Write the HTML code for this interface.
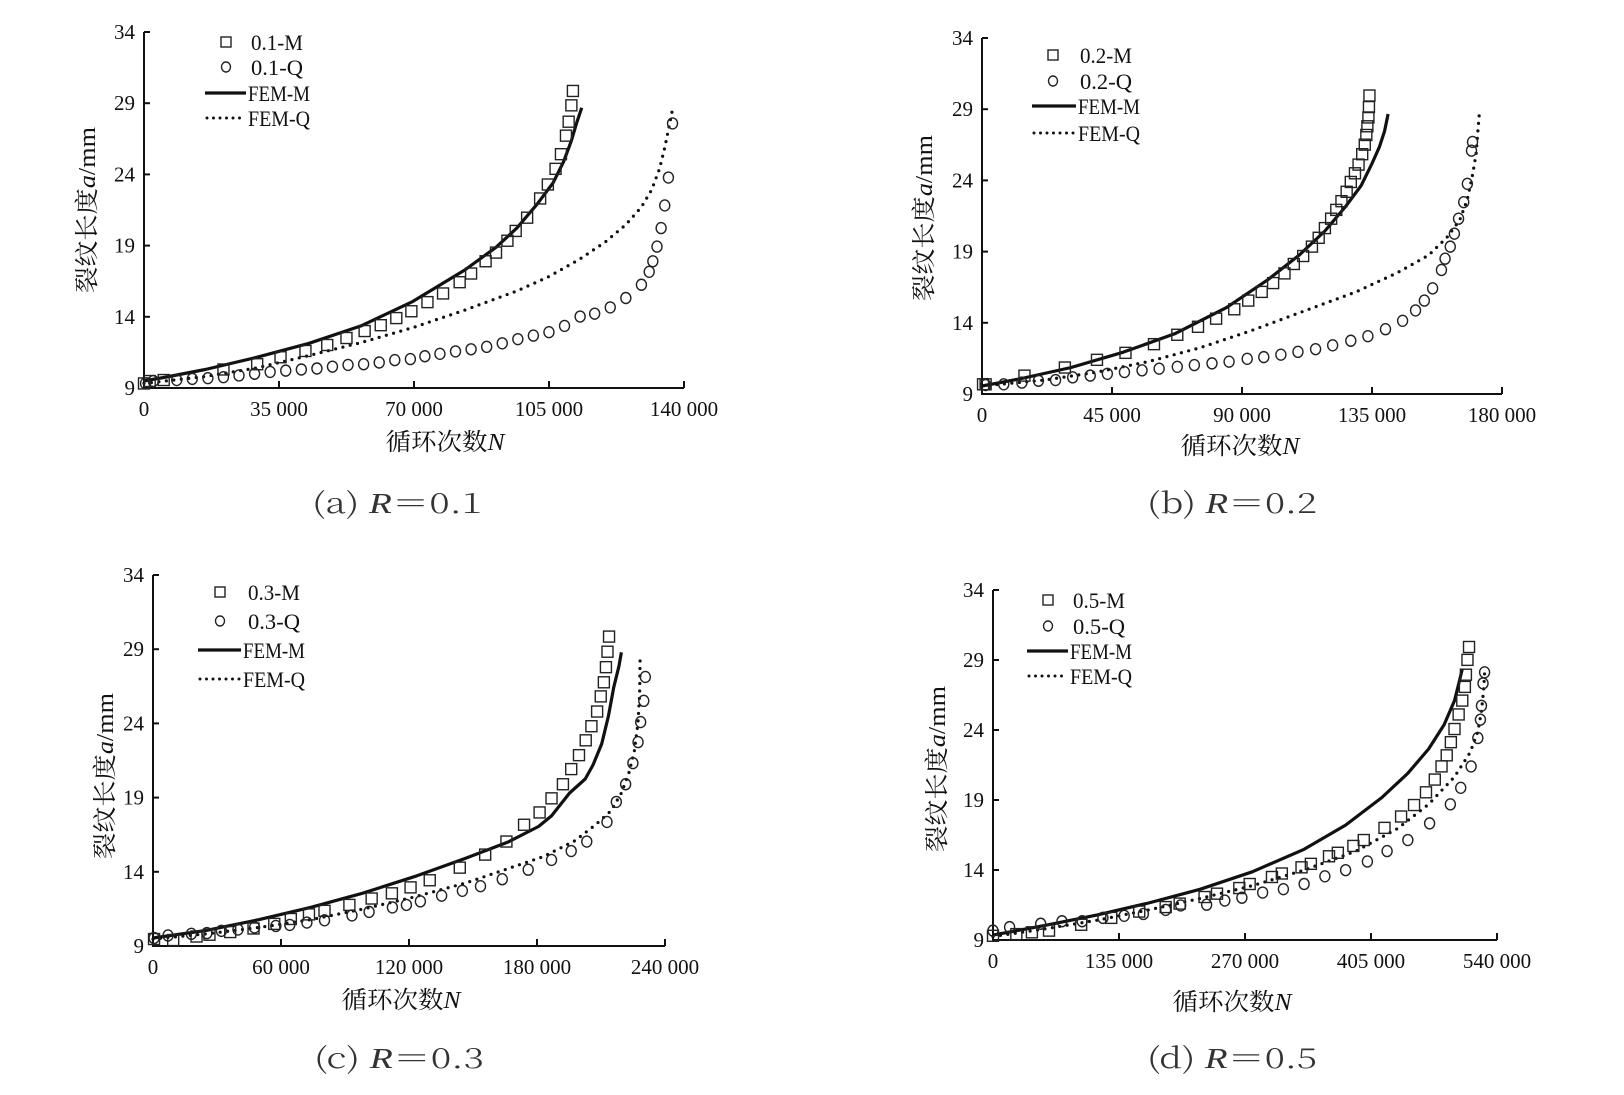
<!DOCTYPE html>
<html><head><meta charset="utf-8"><style>
html,body{margin:0;padding:0;background:#fff;}
svg{display:block;}
text{fill:#111;}
.tk{font-family:"Liberation Serif",serif;font-size:21px;}
.lg{font-family:"Liberation Serif",serif;font-size:22px;}
.ttl{font-family:"Liberation Serif","Noto Serif CJK SC",serif;font-size:24px;}
.cap{font-family:"Noto Serif CJK SC","Liberation Serif",serif;font-size:28px;font-weight:300;fill:#333;}
</style></head><body>
<svg id="chart" width="1624" height="1095" viewBox="0 0 1624 1095" xmlns="http://www.w3.org/2000/svg"></svg>
<script>
// Panel (a) R=0.1
const aMN=[0,1480,5115,20596,29343,35400,41860,47510,52490,57200,61380,65410,69320,73490,77530,81840,84800,88570,91260,94220,96370,99330,102700,104700,106700,108100,109400,110100,110800,111200];
const aMA=[9.32,9.49,9.56,10.30,10.67,11.16,11.60,12.02,12.51,13.00,13.41,13.91,14.39,15.03,15.64,16.43,17.04,17.90,18.51,19.34,20.03,20.96,22.31,23.29,24.39,25.42,26.72,27.70,28.85,29.86];
const aQN=[400,2420,8480,12520,16560,20600,24630,28670,32710,36750,40790,44830,48860,52900,56940,60980,65020,69060,72820,76720,80760,84800,88840,92880,96920,100950,104990,109030,113070,116840,120880,124920,128960,130980,131920,133000,134070,135010,135960,137030];
const aQA=[9.32,9.49,9.56,9.64,9.69,9.76,9.88,10.00,10.13,10.22,10.30,10.37,10.50,10.62,10.67,10.79,10.96,11.03,11.23,11.40,11.57,11.72,11.89,12.14,12.43,12.68,12.92,13.36,14.02,14.22,14.66,15.32,16.25,17.16,17.90,18.93,20.23,21.82,23.78,27.58];
const aFMN=[0,5115,15880,29340,42800,56260,69720,83180,91260,96640,102030,106060,108760,110780,112120,113470];
const aFMA=[9.5,9.74,10.30,11.16,12.14,13.36,15.08,17.29,18.88,20.23,21.94,23.41,24.88,26.35,27.58,28.68];
const aFQN=[0,15880,29340,42800,56260,69720,83180,96640,104710,112780,119510,124900,128930,131620,133640,134990,135930,137010];
const aFQA=[9.32,9.81,10.42,11.28,12.19,13.24,14.47,15.81,16.79,18.02,19.24,20.47,21.70,22.92,24.39,25.86,27.09,28.56];
const aTicks=[0,35000,70000,105000,140000];
const aTickLabels=["0","35 000","70 000","105 000","140 000"];
// Panel (b) R=0.2
const bMN=[360,1260,14700,28690,39800,49670,59530,67600,74770,81040,87320,92160,96820,100770,104710,107940,111170,114210,116550,118700,120850,122640,124430,126230,127660,129100,130350,131610,132500,133040,133400,133760,133940,134120];
const bMA=[9.68,9.68,10.29,10.86,11.40,11.89,12.50,13.16,13.72,14.29,14.95,15.56,16.17,16.79,17.47,18.13,18.69,19.35,19.97,20.65,21.31,21.93,22.54,23.20,23.89,24.50,25.11,25.84,26.51,27.19,27.80,28.42,29.15,29.96];
const bQN=[1260,7530,13810,19540,25460,31380,37470,43390,49310,55400,61320,67600,73510,79610,85530,91800,97540,103460,109370,115470,121380,127660,133580,139670,145590,150070,153120,155990,159040,160290,162090,163520,164960,166750,168010,169440,169800];
const bQA=[9.63,9.68,9.80,9.93,9.98,10.17,10.29,10.42,10.54,10.66,10.78,10.91,11.03,11.15,11.27,11.47,11.59,11.76,11.96,12.15,12.42,12.74,13.06,13.55,14.14,14.87,15.56,16.42,17.71,18.50,19.35,20.26,21.31,22.47,23.76,26.09,26.70];
const bFMN=[0,12910,30840,48770,66700,84630,98970,109730,118700,125870,131250,134830,137520,139320,140570];
const bFMA=[9.56,10.05,10.86,11.93,13.23,15.07,17.03,18.74,20.45,22.17,23.64,25.11,26.33,27.44,28.66];
const bFQN=[0,21870,39800,57730,75660,93590,111520,129450,143800,154550,160830,165310,168000,169800,171050,171590,172130];
const bFQA=[9.56,9.98,10.54,11.28,12.26,13.48,14.83,16.17,17.52,18.74,19.97,21.19,22.66,24.38,25.84,27.31,28.66];
const bTicks=[0,45000,90000,135000,180000];
const bTickLabels=["0","45 000","90 000","135 000","180 000"];
// Panel (c) R=0.3
const cMN=[490,9470,20400,26470,36190,47120,56840,64610,73110,80400,92060,102500,111980,120730,129720,143810,155710,165670,173930,181220,186810,192150,196040,199680,202840,205510,208180,209880,211340,212310,213040,213770];
const cMA=[9.47,9.40,9.64,9.76,9.94,10.18,10.49,10.82,11.13,11.37,11.77,12.20,12.55,12.95,13.43,14.28,15.16,16.04,17.17,18.00,18.95,19.90,20.92,21.86,22.86,23.81,24.80,25.82,26.77,27.79,28.83,29.85];
const cQN=[490,7040,17970,25260,32060,39830,47610,57570,64120,72140,80400,93270,101290,112220,118780,125340,135300,145010,153520,163720,175870,186810,196040,203330,212800,217180,221550,224950,227370,228590,230050,230780];
const cQA=[9.54,9.71,9.82,9.87,10.02,10.11,10.25,10.35,10.42,10.58,10.73,11.06,11.30,11.60,11.77,12.01,12.39,12.72,13.03,13.50,14.14,14.80,15.40,16.04,17.36,18.71,19.90,21.32,22.74,24.09,25.52,27.13];
const cFMN=[0,25260,49550,73840,98130,122420,146710,166150,180720,186800,195300,202580,206230,210350,213510,215940,218370,219580];
const cFMA=[9.54,10.06,10.77,11.60,12.55,13.67,14.92,15.99,17.05,17.77,19.31,20.25,21.20,22.62,24.52,26.42,27.84,28.79];
const cFQN=[0,25260,49550,73840,98130,122420,146710,166150,183150,197720,207440,214730,219580,223220,225650,227350,228080,228320];
const cFQA=[9.47,9.82,10.25,10.77,11.48,12.30,13.25,14.20,15.03,16.09,17.17,18.12,19.31,20.73,22.15,24.05,25.94,28.31];
const cTicks=[0,60000,120000,180000,240000];
const cTickLabels=["0","60 000","120 000","180 000","240 000"];
// Panel (d) R=0.5
const dMN=[0,25000,41670,60000,94450,126670,156670,185010,200010,226680,240010,263900,275010,298900,309460,330570,340570,360020,369460,386130,397240,419460,437240,451130,463910,473350,480580,486130,490580,494470,498910,502800,505580,506690,508360,510030];
const dMA=[9.30,9.42,9.55,9.67,10.09,10.58,11.03,11.35,11.60,12.07,12.31,12.71,13.00,13.50,13.75,14.19,14.44,14.98,15.23,15.72,16.14,17.01,17.82,18.64,19.55,20.46,21.40,22.19,23.13,24.07,25.11,26.10,27.08,27.95,29.01,29.93];
const dQN=[0,17780,51110,73890,95560,117780,140560,161120,185010,201120,228900,248350,266680,288910,311130,333360,355580,377800,401140,422250,444470,467800,490030,501140,512250,519470,522250,523360,525030,526690];
const dQA=[9.67,9.92,10.16,10.34,10.34,10.58,10.73,10.86,11.15,11.47,11.52,11.82,12.02,12.39,12.63,13.00,13.55,13.99,14.61,15.35,16.14,17.33,18.69,19.87,21.40,23.43,24.74,25.73,27.33,28.12];
const dFMN=[0,55560,111120,166680,222240,277800,333360,377810,416700,444480,466700,483370,494480,500040,502820];
const dFMA=[9.35,10.04,10.78,11.64,12.63,13.87,15.48,17.21,19.18,20.91,22.64,24.37,26.10,27.58,28.37];
const dFQN=[0,55560,111120,166680,222240,277800,333360,388920,433370,466700,494480,511150,519480,523370,525590,526690];
const dFQA=[9.25,9.79,10.41,11.15,11.97,12.88,13.99,15.35,16.96,18.69,20.66,22.39,23.87,25.36,26.84,28.07];
const dTicks=[0,135000,270000,405000,540000];
const dTickLabels=["0","135 000","270 000","405 000","540 000"];
const yTicks=[9,14,19,24,29,34];

const NS="http://www.w3.org/2000/svg";
const svg=document.getElementById('chart');
function mk(tag,attrs,parent){const e=document.createElementNS(NS,tag);for(const k in attrs)e.setAttribute(k,attrs[k]);(parent||svg).appendChild(e);return e;}

const panels=[
 {id:'a',R:'0.1',x0:144,x1:684,y0:388,y1:32,xmax:140000,ticks:aTicks,labels:aTickLabels,MN:aMN,MA:aMA,QN:aQN,QA:aQA,FMN:aFMN,FMA:aFMA,FQN:aFQN,FQA:aFQA,
  lg:{mx:226,tx:251,y:[42,67,93,118],l0:205,l1:246},yt:{x:86,y:210},xt:{x:445,y:441},cap:{x:397,y:513}},
 {id:'b',R:'0.2',x0:982,x1:1502,y0:394,y1:38,xmax:180000,ticks:bTicks,labels:bTickLabels,MN:bMN,MA:bMA,QN:bQN,QA:bQA,FMN:bFMN,FMA:bFMA,FQN:bFQN,FQA:bFQA,
  lg:{mx:1053,tx:1080,y:[55,81,106,133],l0:1032,l1:1076},yt:{x:923,y:218},xt:{x:1240,y:445},cap:{x:1232,y:513}},
 {id:'c',R:'0.3',x0:153,x1:665,y0:946,y1:575,xmax:240000,ticks:cTicks,labels:cTickLabels,MN:cMN,MA:cMA,QN:cQN,QA:cQA,FMN:cFMN,FMA:cFMA,FQN:cFQN,FQA:cFQA,
  lg:{mx:220,tx:248,y:[592,621,650,679],l0:198,l1:241},yt:{x:104,y:776},xt:{x:401,y:999},cap:{x:399,y:1068}},
 {id:'d',R:'0.5',x0:993,x1:1497,y0:940,y1:590,xmax:540000,ticks:dTicks,labels:dTickLabels,MN:dMN,MA:dMA,QN:dQN,QA:dQA,FMN:dFMN,FMA:dFMA,FQN:dFQN,FQA:dFQA,
  lg:{mx:1048,tx:1073,y:[600,626,651,676],l0:1027,l1:1068},yt:{x:936,y:769},xt:{x:1232,y:1001},cap:{x:1232,y:1068}}
];

panels.forEach(p=>{
  const g=mk('g',{});
  
  
  const X=v=>p.x0+(v/p.xmax)*(p.x1-p.x0);
  const Y=v=>p.y0-(v-9)/25*(p.y0-p.y1);
  const ax=mk('path',{d:`M${p.x0},${p.y1} V${p.y0} H${p.x1}`,fill:'none',stroke:'#111','stroke-width':2},g);
  
  
  yTicks.forEach(t=>{
    mk('line',{x1:p.x0,x2:p.x0+6,y1:Y(t),y2:Y(t),stroke:'#111','stroke-width':2},g);
    const tx=mk('text',{x:p.x0-9,y:Y(t)+7,'text-anchor':'end',class:'tk'},g);
    tx.textContent=String(t);
    
    
  });
  p.ticks.forEach((t,i)=>{
    if(i>0) mk('line',{x1:X(t),x2:X(t),y1:p.y0,y2:p.y0-7,stroke:'#111','stroke-width':2},g);
    const tx=mk('text',{x:X(t),y:p.y0+28,'text-anchor':'middle',class:'tk'},g);
    tx.textContent=p.labels[i];
    
    
  });
  const pts=(N,A)=>N.map((n,i)=>X(n).toFixed(1)+','+Y(A[i]).toFixed(1)).join(' ');
  const fm=mk('polyline',{points:pts(p.FMN,p.FMA),fill:'none',stroke:'#111','stroke-width':3.2,'stroke-linejoin':'round'},g);
  
  
  const fq=mk('polyline',{points:pts(p.FQN,p.FQA),fill:'none',stroke:'#111','stroke-width':3.2,'stroke-dasharray':'0 7.5','stroke-linecap':'round'},g);
  
  
  p.MN.forEach((n,i)=>{
    const r=mk('rect',{x:X(n)-5.5,y:Y(p.MA[i])-5.5,width:11,height:11,fill:'none',stroke:'#222','stroke-width':1.4},g);
    
    
  });
  p.QN.forEach((n,i)=>{
    const c=mk('ellipse',{cx:X(n),cy:Y(p.QA[i]),rx:5,ry:5.5,fill:'none',stroke:'#222','stroke-width':1.4},g);
    
    
  });
  const L=p.lg;
  const lg=mk('g',{},g);
  
  
  mk('rect',{x:L.mx-5,y:L.y[0]-5,width:10,height:10,fill:'none',stroke:'#222','stroke-width':1.4},lg);
  mk('ellipse',{cx:L.mx,cy:L.y[1],rx:4.5,ry:5,fill:'none',stroke:'#222','stroke-width':1.4},lg);
  mk('line',{x1:L.l0,x2:L.l1,y1:L.y[2],y2:L.y[2],stroke:'#111','stroke-width':3.2},lg);
  mk('line',{x1:L.l0+2,x2:L.l1,y1:L.y[3],y2:L.y[3],stroke:'#111','stroke-width':3,'stroke-dasharray':'0 6.5','stroke-linecap':'round'},lg);
  const names=[p.R+'-M',p.R+'-Q','FEM-M','FEM-Q'];
  names.forEach((s,i)=>{
    const t=mk('text',{x:(i<2?L.tx:L.l1+2),y:L.y[i]+8,class:'lg',textLength:(i<2?52:62),lengthAdjust:'spacingAndGlyphs'},lg);
    t.textContent=s;
    
    
  });
  const yt=mk('text',{x:0,y:0,class:'ttl','text-anchor':'middle',transform:`translate(${p.yt.x+9},${p.yt.y}) rotate(-90)`,textLength:166,lengthAdjust:'spacingAndGlyphs'},g);
  yt.innerHTML='裂纹长度<tspan font-style="italic">a</tspan>/mm';
  
  
  const xt=mk('text',{x:p.xt.x,y:p.xt.y+9,class:'ttl','text-anchor':'middle',textLength:119,lengthAdjust:'spacingAndGlyphs'},g);
  xt.innerHTML='循环次数<tspan font-style="italic">N</tspan>';
  
  
  const cp=mk('text',{x:p.cap.x,y:p.cap.y,class:'cap','text-anchor':'middle',textLength:170,lengthAdjust:'spacingAndGlyphs'},g);
  cp.innerHTML='('+p.id+') <tspan font-style="italic" font-family="Liberation Serif">R</tspan>＝0'+p.R.slice(1);
  
  
});
</script>
</body></html>
